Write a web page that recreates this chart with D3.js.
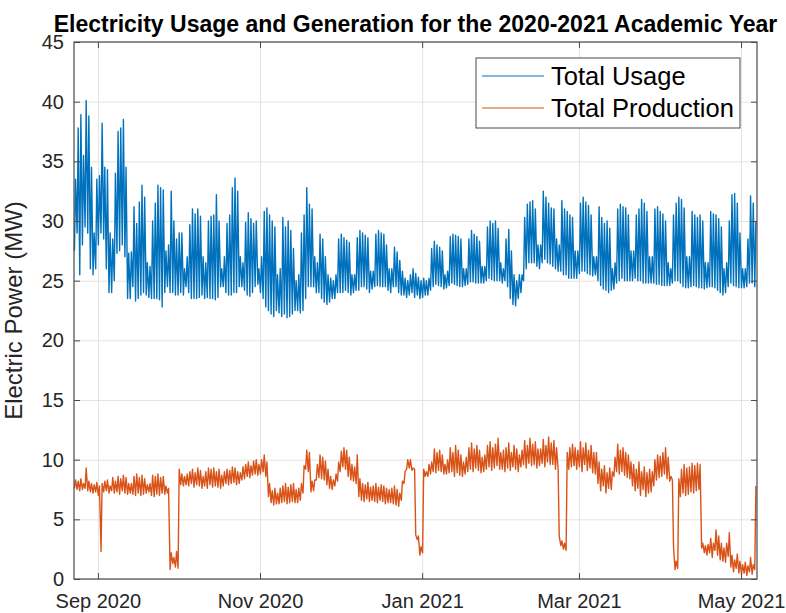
<!DOCTYPE html>
<html>
<head>
<meta charset="utf-8">
<script src="https://cdn.jsdelivr.net/npm/d3@7"></script>
<style>
    body { margin: 0; background: #fff; }
    svg text { font-family: "Liberation Sans", Arial, Helvetica, sans-serif; }
</style>
</head>
<body>
<div id="chart"></div>
<script>
// one reading per day, first day is Sun 23 Aug 2020, rows are weeks (Sun..Sat)
// "Low" is the night trough, "High" the afternoon peak
var usageHigh = [
    33.5, 37.8, 38.9, 35.5, 40.1, 38.8, 34.5,
    29.0, 33.5, 33.8, 38.2, 34.5, 34.3, 29.0,
    28.5, 34.0, 37.5, 37.8, 38.5, 34.5, 27.3,
    27.4, 31.2, 29.8, 31.6, 33.0, 32.0, 26.5,
    26.2, 30.0, 31.5, 33.0, 32.8, 32.6, 27.5,
    28.0, 32.5, 30.0, 28.5, 29.0, 29.0, 26.0,
    27.0, 29.7, 31.0, 30.6, 31.0, 30.4, 27.0,
    26.5, 30.0, 30.4, 30.5, 32.2, 30.0, 26.0,
    27.0, 29.8, 30.5, 32.8, 33.6, 32.5, 27.0,
    26.5, 29.9, 30.7, 30.2, 29.8, 30.0, 26.0,
    27.0, 30.8, 31.1, 30.5, 30.0, 29.5, 25.5,
    26.0, 30.3, 29.5, 30.0, 29.2, 27.7, 25.0,
    25.5, 29.0, 30.5, 32.8, 31.4, 31.0, 27.0,
    26.5, 28.9, 28.5, 27.0, 25.5, 25.2, 25.0,
    25.5, 28.5, 28.9, 28.6, 28.4, 28.2, 25.5,
    25.5, 28.6, 29.2, 29.0, 28.8, 28.6, 25.8,
    25.8, 28.9, 29.2, 29.0, 28.9, 28.0, 26.0,
    26.0, 27.8, 27.4, 26.7, 25.8, 25.2, 25.0,
    25.5, 26.0, 25.6, 25.3, 25.0, 25.2, 25.0,
    25.2, 27.7, 28.3, 28.0, 27.8, 27.5, 25.5,
    25.8, 28.7, 28.9, 28.8, 28.7, 28.5, 26.0,
    26.0, 28.5, 29.2, 28.9, 28.7, 28.3, 26.2,
    26.2, 29.5, 30.0, 29.8, 30.0, 29.4, 26.5,
    26.0, 28.5, 29.3, 27.5, 25.5, 25.0, 25.5,
    25.5, 30.3, 31.4, 31.6, 31.7, 31.0, 28.0,
    28.0, 32.5, 32.0, 31.5, 31.1, 31.0, 28.5,
    28.0, 31.7, 31.0, 30.8, 30.5, 30.3, 27.5,
    27.5, 31.5, 32.0, 31.6, 31.3, 30.5, 27.0,
    27.0, 31.2, 30.3, 29.8, 30.0, 29.4, 26.0,
    26.5, 31.0, 31.4, 31.2, 31.1, 30.5, 27.5,
    27.5, 30.5, 31.0, 31.8, 31.5, 30.8, 27.0,
    27.0, 31.0, 31.2, 30.8, 30.6, 30.0, 26.5,
    26.0, 30.5, 31.5, 32.0, 31.8, 31.1, 27.0,
    27.0, 30.8, 30.5, 30.3, 30.5, 30.0, 26.5,
    26.5, 30.8, 30.6, 30.5, 30.2, 29.5, 26.0,
    26.5, 30.0, 32.2, 32.3, 31.5, 29.0, 26.0,
    26.0, 28.5, 32.1, 31.5, 30.0
];
var usageLow = [
    27.5, 29.0, 25.5, 28.0, 29.5, 29.0, 26.0,
    25.5, 26.0, 28.0, 29.0, 28.5, 26.0, 24.0,
    24.0, 25.0, 27.3, 27.5, 28.0, 27.0, 23.5,
    23.5, 24.5, 23.3, 23.5, 23.8, 24.0, 23.8,
    23.6, 23.5, 23.5, 23.5, 23.4, 22.8, 24.0,
    24.5, 24.0, 24.0, 23.8, 23.8, 24.0, 23.8,
    24.5, 24.0, 23.5, 23.5, 23.5, 23.6, 23.8,
    23.5, 23.6, 23.5, 23.5, 23.4, 23.6, 24.5,
    24.5, 24.0, 23.8, 23.8, 24.0, 24.0, 24.5,
    24.5, 24.2, 23.8, 23.7, 24.0, 24.5, 24.7,
    24.0, 23.5, 22.8, 22.5, 22.2, 22.0, 22.5,
    22.3, 22.0, 22.2, 21.9, 22.0, 22.2, 22.5,
    22.5, 22.3, 22.5, 23.5, 24.5, 24.5, 24.5,
    24.0, 24.0, 23.5, 23.2, 23.0, 23.2, 23.5,
    23.5, 24.0, 24.0, 24.0, 24.2, 24.0, 23.8,
    24.0, 24.2, 24.2, 24.5, 24.5, 24.3, 24.0,
    24.3, 24.5, 24.6, 24.5, 24.5, 24.5, 24.2,
    24.0, 24.5, 24.5, 24.0, 23.8, 23.8, 23.6,
    23.8, 24.0, 23.6, 23.8, 23.5, 23.6, 23.8,
    23.8, 24.2, 24.5, 24.7, 24.6, 24.5, 24.3,
    24.4, 24.6, 24.8, 24.7, 24.6, 24.5, 24.5,
    24.6, 24.7, 24.9, 24.9, 24.8, 24.8, 24.8,
    24.8, 25.0, 25.2, 25.1, 25.0, 25.0, 25.0,
    24.8, 25.0, 24.5, 23.5, 23.0, 22.9, 23.5,
    24.0, 25.0, 26.0, 26.5, 26.5, 26.5, 26.2,
    26.0, 26.5, 26.8, 26.5, 26.4, 26.2, 26.0,
    25.8, 25.8, 25.5, 25.5, 25.2, 25.2, 25.2,
    25.2, 25.6, 25.8, 25.8, 25.6, 25.5, 25.4,
    25.5, 25.0, 24.6, 24.3, 24.2, 24.0, 24.2,
    24.3, 24.8, 25.0, 25.2, 25.0, 25.0, 25.0,
    25.0, 25.2, 25.0, 25.0, 24.8, 24.8, 24.8,
    24.8, 24.8, 24.7, 24.7, 24.6, 24.6, 24.6,
    24.6, 24.8, 25.0, 25.0, 24.8, 24.5, 24.4,
    24.4, 24.5, 24.6, 24.5, 24.4, 24.4, 24.3,
    24.4, 24.5, 24.5, 24.4, 24.2, 24.0, 23.8,
    24.0, 24.5, 24.8, 24.6, 24.5, 24.4, 24.4,
    24.4, 24.5, 24.8, 24.8, 24.5
];
var prodHigh = [
    8.3, 8.2, 8.4, 8.0, 9.3, 8.2, 8.0,
    7.9, 8.1, 7.8, 8.0, 8.2, 8.3, 7.8,
    8.5, 8.2, 8.6, 8.4, 8.7, 8.5, 8.0,
    8.0, 8.6, 8.8, 8.5, 8.7, 8.4, 7.9,
    8.0, 8.7, 8.6, 8.8, 8.5, 8.6, 7.8,
    7.6, 2.2, 1.8, 2.3, 9.2, 8.8, 8.6,
    8.8, 9.0, 9.2, 8.9, 9.3, 9.1, 8.6,
    9.0, 9.3, 9.2, 9.3, 9.0, 9.2, 8.7,
    9.0, 9.2, 9.1, 9.4, 9.3, 9.0, 8.9,
    9.4, 9.6, 9.8, 9.5, 9.9, 10.0, 9.6,
    10.0, 10.4, 9.8, 8.0, 7.4, 7.6, 7.2,
    7.6, 7.8, 8.0, 7.7, 7.9, 8.0, 7.5,
    7.6, 8.0, 9.5, 10.8, 10.6, 8.2, 8.3,
    9.6, 10.4, 10.2, 9.9, 9.2, 8.6, 8.3,
    8.8, 9.8, 10.7, 11.0, 10.8, 10.2, 9.6,
    9.4, 10.4, 8.4, 8.0, 7.9, 8.1, 7.7,
    7.8, 8.0, 7.7, 7.9, 7.8, 7.6, 7.5,
    7.6, 7.8, 7.5, 7.2, 8.2, 9.0, 10.0,
    10.0, 9.3, 3.7, 3.6, 2.7, 9.2, 9.0,
    9.6, 9.8, 10.9, 10.6, 10.8, 10.4, 9.6,
    10.0, 11.0, 10.6, 11.2, 10.8, 10.4, 9.8,
    10.2, 11.0, 11.4, 10.9, 11.2, 10.8, 10.2,
    10.4, 11.2, 11.5, 11.0, 11.3, 11.8, 10.6,
    10.8, 11.0, 11.4, 10.6, 11.2, 10.9, 10.4,
    10.8, 11.6, 11.2, 11.8, 11.3, 11.5, 10.9,
    10.9, 11.7, 11.2, 11.9, 11.4, 11.6, 11.0,
    3.6, 3.2, 3.0, 10.6, 11.0, 11.3, 11.0,
    10.8, 11.5, 11.0, 11.4, 10.8, 11.2, 10.6,
    10.6, 9.8, 9.2, 9.5, 8.9, 9.3, 9.0,
    10.2, 11.3, 10.8, 11.0, 10.6, 10.4, 9.8,
    9.6, 9.2, 9.8, 9.0, 9.4, 8.9, 9.2,
    9.0, 10.0, 10.4, 10.3, 10.6, 11.0, 10.2,
    8.6, 2.7, 1.5, 8.4, 9.2, 9.6, 9.3,
    9.4, 9.7, 9.5, 9.7, 9.6, 3.0, 2.8,
    2.9, 3.4, 3.0, 4.1, 3.6, 3.0, 2.6,
    3.0, 3.9, 2.0, 1.6, 2.1, 1.5, 1.2,
    1.4, 1.1, 1.8, 1.2, 7.8
];
var prodLow = [
    7.6, 7.5, 7.4, 7.5, 7.6, 7.4, 7.3,
    7.2, 7.3, 7.0, 2.3, 7.3, 7.4, 7.2,
    7.4, 7.2, 7.3, 7.1, 7.4, 7.2, 7.1,
    7.2, 7.1, 7.0, 7.2, 7.0, 7.1, 7.2,
    7.3, 7.0, 6.9, 7.1, 7.0, 7.2, 7.1,
    7.2, 0.8, 1.3, 1.0, 0.9, 7.9, 7.8,
    7.9, 7.8, 8.0, 7.7, 7.9, 7.8, 7.6,
    7.8, 7.6, 7.9, 7.7, 7.8, 7.7, 7.6,
    7.8, 8.0, 7.9, 8.0, 8.1, 7.9, 8.0,
    8.3, 8.4, 8.6, 8.5, 8.7, 8.8, 8.7,
    8.8, 9.0, 8.6, 6.9, 6.4, 6.2, 6.3,
    6.3, 6.4, 6.5, 6.3, 6.4, 6.5, 6.4,
    6.4, 6.6, 7.2, 9.2, 9.0, 7.3, 7.4,
    8.3, 8.5, 8.4, 8.3, 7.9, 7.6, 7.5,
    7.8, 8.2, 9.0, 9.4, 9.2, 8.6, 8.3,
    8.2, 8.0, 6.9, 6.6, 6.5, 6.7, 6.5,
    6.6, 6.5, 6.4, 6.6, 6.5, 6.3, 6.4,
    6.4, 6.3, 6.2, 6.1, 6.6, 8.0, 9.2,
    9.3, 9.1, 9.2, 3.3, 2.0, 2.2, 8.6,
    8.6, 8.8, 9.0, 8.9, 9.1, 9.0, 8.8,
    8.8, 8.9, 9.0, 8.6, 8.9, 8.7, 8.6,
    8.8, 9.0, 9.2, 9.0, 9.3, 9.1, 8.9,
    9.0, 9.2, 9.4, 9.1, 9.3, 9.5, 9.2,
    9.2, 9.0, 9.3, 9.1, 9.4, 9.2, 9.0,
    9.4, 9.6, 9.3, 9.7, 9.5, 9.6, 9.3,
    9.5, 9.7, 9.4, 9.8, 9.6, 9.6, 9.2,
    9.2, 2.8, 2.5, 2.4, 9.2, 9.4, 9.5,
    9.2, 9.4, 9.0, 9.6, 9.1, 9.3, 8.9,
    8.8, 8.0, 7.4, 7.8, 7.2, 7.6, 7.5,
    8.6, 9.0, 8.8, 9.0, 8.7, 8.5, 8.4,
    7.8, 7.4, 7.6, 7.0, 7.5, 6.9, 7.2,
    7.3, 7.8, 8.3, 8.5, 8.6, 8.8, 8.4,
    8.2, 8.3, 0.8, 0.9, 6.9, 7.2, 7.0,
    7.1, 7.3, 7.2, 7.4, 7.5, 2.6, 2.2,
    2.0, 2.2, 1.8, 2.4, 2.0, 1.6, 1.5,
    1.4, 1.9, 1.0, 0.6, 0.9, 0.5, 0.4,
    0.5, 0.3, 0.6, 0.4, 0.8
];

var seriesNames = ["Total Usage", "Total Production"];
var seriesColors = ["#0072bd", "#d95319"];
var xTickDates = [new Date(2020, 8, 1), new Date(2020, 10, 1), new Date(2021, 0, 1),
    new Date(2021, 2, 1), new Date(2021, 4, 1)];
var yTicks = [0, 5, 10, 15, 20, 25, 30, 35, 40, 45];

var CANVAS_WIDTH = 786,
    CANVAS_HEIGHT = 613,
    FONT_AXIS = 20,
    AXIS_COLOR = "#4a4a4a",
    GRID_COLOR = "#e3e3e3";

var startDay = new Date(2020, 7, 23),
    endDay = new Date(2021, 4, 7);

function toPoints(low, high) {
    //two readings per day: night trough then afternoon peak
    var pts = [];
    for (var i = 0; i < low.length; i++) {
        var day = d3.timeDay.offset(startDay, i);
        pts.push({ t: d3.timeHour.offset(day, 4), v: low[i] });
        pts.push({ t: d3.timeHour.offset(day, 14), v: high[i] });
    }
    return pts;
}

function drawChart() {
    var margin = { top: 42, right: 29, bottom: 34, left: 74 },
        width = CANVAS_WIDTH - margin.left - margin.right,
        height = CANVAS_HEIGHT - margin.top - margin.bottom;

    var svg = d3.select("#chart")
        .append("svg")
        .attr("width", CANVAS_WIDTH)
        .attr("height", CANVAS_HEIGHT);

    svg.append("rect")
        .attr("width", CANVAS_WIDTH)
        .attr("height", CANVAS_HEIGHT)
        .attr("fill", "#fff");

    var g = svg.append("g")
        .attr("transform", "translate(" + margin.left + "," + margin.top + ")");

    var x = d3.scaleTime()
        .domain([startDay, endDay])
        .range([0, width]);

    var y = d3.scaleLinear()
        .domain([0, 45])
        .range([height, 0]);

    // grid
    g.append("g")
        .attr("class", "grid")
        .attr("transform", "translate(0," + height + ")")
        .call(d3.axisBottom(x).tickValues(xTickDates).tickSize(-height).tickFormat(""));
    g.append("g")
        .attr("class", "grid")
        .call(d3.axisLeft(y).tickValues(yTicks).tickSize(-width).tickFormat(""));
    g.selectAll(".grid line").attr("stroke", GRID_COLOR).attr("stroke-width", 1);
    g.selectAll(".grid .domain").remove();

    // series
    var line = d3.line()
        .x(function(d) { return x(d.t); })
        .y(function(d) { return y(d.v); });

    var series = [toPoints(usageLow, usageHigh), toPoints(prodLow, prodHigh)];

    g.append("g")
        .attr("class", "series")
        .selectAll("path")
        .data(series)
        .enter()
        .append("path")
        .attr("d", line)
        .attr("fill", "none")
        .attr("stroke", function(d, i) { return seriesColors[i]; })
        .attr("stroke-width", 1.4)
        .attr("stroke-linejoin", "round");

    // axes, ticks pointing inward on all four sides
    g.append("g")
        .attr("class", "axis")
        .attr("transform", "translate(0," + height + ")")
        .call(d3.axisBottom(x).tickValues(xTickDates).tickSizeInner(-6).tickSizeOuter(0)
            .tickPadding(15).tickFormat(d3.timeFormat("%b %Y")));
    g.append("g")
        .attr("class", "axis")
        .call(d3.axisTop(x).tickValues(xTickDates).tickSizeInner(-6).tickSizeOuter(0).tickFormat(""));
    g.append("g")
        .attr("class", "axis")
        .call(d3.axisLeft(y).tickValues(yTicks).tickSizeInner(-6).tickSizeOuter(0).tickPadding(10));
    g.append("g")
        .attr("class", "axis")
        .attr("transform", "translate(" + width + ",0)")
        .call(d3.axisRight(y).tickValues(yTicks).tickSizeInner(-6).tickSizeOuter(0).tickFormat(""));

    g.selectAll(".axis .domain").remove();
    g.selectAll(".axis line").attr("stroke", AXIS_COLOR);
    g.selectAll(".axis text")
        .attr("fill", "#262626")
        .style("font-size", FONT_AXIS + "px");

    g.append("rect")
        .attr("width", width)
        .attr("height", height)
        .attr("fill", "none")
        .attr("stroke", AXIS_COLOR)
        .attr("stroke-width", 1.2);

    // y label
    g.append("text")
        .attr("transform", "translate(-52," + (height / 2) + ") rotate(-90)")
        .attr("text-anchor", "middle")
        .attr("fill", "#262626")
        .style("font-size", "24px")
        .text("Electric Power (MW)");

    // title
    svg.append("text")
        .attr("x", margin.left + width / 2)
        .attr("y", 32)
        .attr("text-anchor", "middle")
        .attr("fill", "#000")
        .style("font-size", "23px")
        .style("font-weight", "bold")
        .text("Electricity Usage and Generation for the 2020-2021 Academic Year");

    // legend
    var legend = svg.append("g")
        .attr("class", "legend")
        .attr("transform", "translate(476,58)");

    legend.append("rect")
        .attr("width", 264)
        .attr("height", 70)
        .attr("fill", "#fff")
        .attr("stroke", AXIS_COLOR)
        .attr("stroke-width", 1);

    var item = legend.selectAll(".item")
        .data(seriesNames)
        .enter()
        .append("g")
        .attr("class", "item")
        .attr("transform", function(d, i) { return "translate(0," + (18 + i * 32) + ")"; });

    item.append("line")
        .attr("x1", 6)
        .attr("x2", 68)
        .attr("stroke", function(d, i) { return seriesColors[i]; })
        .attr("stroke-width", 1.2);

    item.append("text")
        .attr("x", 75)
        .attr("dy", "0.35em")
        .attr("fill", "#000")
        .style("font-size", "25.5px")
        .text(function(d) { return d; });
}

drawChart();
</script>
</body>
</html>
